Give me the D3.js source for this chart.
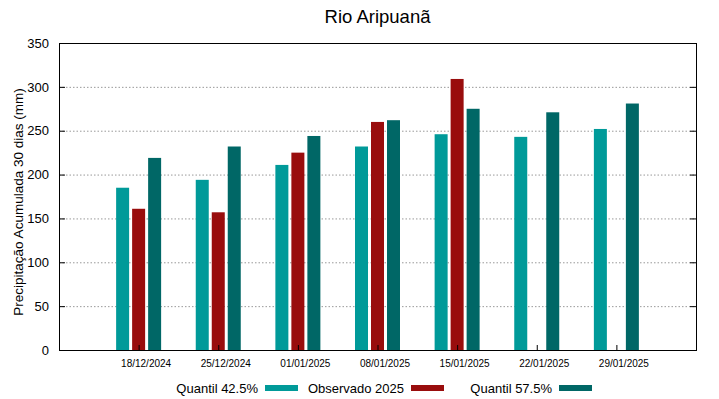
<!DOCTYPE html>
<html>
<head>
<meta charset="utf-8">
<script src="https://cdn.jsdelivr.net/npm/d3@7"></script>
<style>
body { margin: 0; background: #fff; }
text { font-family: "Liberation Sans", Arial, sans-serif; }
</style>
</head>
<body>
<svg id="chart" width="719" height="399"></svg>
<script>
var dates = ["18/12/2024", "25/12/2024", "01/01/2025", "08/01/2025", "15/01/2025", "22/01/2025", "29/01/2025"];
var q425 = [185, 194, 211, 232, 246, 243, 252];
var obs2025 = [161, 157, 225, 260, 309, null, null];
var q575 = [219, 232, 244, 262, 275, 271, 281];
var yTicks = [0, 50, 100, 150, 200, 250, 300, 350];

var series = [
	{ name: "Quantil 42.5%", values: q425, color: "#009a99", off: -1 },
	{ name: "Observado 2025", values: obs2025, color: "#990d0d", off: 0 },
	{ name: "Quantil 57.5%", values: q575, color: "#006766", off: 1 },
];

var margin = { top: 43, right: 23, bottom: 49, left: 59 },
	width = 719 - margin.left - margin.right,
	height = 399 - margin.top - margin.bottom;

var svg = d3.select("#chart");
var g = svg.append("g").attr("transform", "translate(" + margin.left + "," + margin.top + ")");

var x = d3.scaleLinear().domain([-1, 7]).range([0, width]);
var y = d3.scaleLinear().domain([0, 350]).range([height, 0]);
var barW = 13, slot = 16;

// grid
g.append("g")
	.selectAll("line")
	.data(yTicks.filter((d) => d > 0 && d < 350))
	.enter()
	.append("line")
	.attr("x1", 0)
	.attr("x2", width)
	.attr("y1", (d) => y(d) + 0.5)
	.attr("y2", (d) => y(d) + 0.5)
	.attr("stroke", "#999")
	.attr("stroke-width", 1)
	.attr("stroke-dasharray", "1.5,2");

// bars
series.forEach(function (s) {
	g.append("g")
		.selectAll("rect")
		.data(s.values.map((v, i) => ({ v: v, i: i })).filter((d) => d.v != null))
		.enter()
		.append("rect")
		.attr("x", (d) => x(d.i) + s.off * slot - barW / 2)
		.attr("y", (d) => y(d.v))
		.attr("width", barW)
		.attr("height", (d) => height - y(d.v))
		.attr("fill", s.color);
});

// axes
var yAxis = d3.axisLeft(y).tickValues(yTicks).tickSize(-6).tickPadding(10);
var ya = g.append("g").call(yAxis);
ya.selectAll("text").attr("font-size", 13).attr("fill", "#000").attr("font-family", "Liberation Sans, Arial, sans-serif");
ya.select(".domain").remove();
ya.selectAll("line").attr("stroke", "#000");

var yr = g.append("g").attr("transform", "translate(" + width + ",0)").call(d3.axisRight(y).tickValues(yTicks).tickSize(-6).tickFormat(""));
yr.select(".domain").remove();
yr.selectAll("line").attr("stroke", "#000");

var xAxis = d3.axisBottom(x).tickValues(d3.range(dates.length)).tickSize(-5).tickFormat((i) => dates[i]).tickPadding(10);
var xa = g.append("g").attr("transform", "translate(0," + height + ")").call(xAxis);
xa.select(".domain").remove();
xa.selectAll("line").attr("stroke", "#000");
xa.selectAll("text").attr("font-size", 10).attr("fill", "#000").attr("dx", 7).attr("font-family", "Liberation Sans, Arial, sans-serif");

// border
g.append("rect")
	.attr("x", 0.5)
	.attr("y", 0.5)
	.attr("width", width)
	.attr("height", height)
	.attr("fill", "none")
	.attr("stroke", "#000")
	.attr("stroke-width", 1);

// title
svg.append("text")
	.attr("x", margin.left + width / 2)
	.attr("y", 23)
	.attr("text-anchor", "middle")
	.attr("font-size", 18.5)
	.text("Rio Aripuanã");

// Y axis label
svg.append("text")
	.attr("text-anchor", "middle")
	.attr("transform", "translate(22.5,202) rotate(-90)")
	.attr("font-size", 13.5)
	.text("Precipitação Acumulada 30 dias (mm)");

// legend
var legendX = [258, 404, 552];
var leg = svg.append("g").attr("transform", "translate(0,388)");
series.forEach(function (s, k) {
	leg.append("text")
		.attr("x", legendX[k])
		.attr("y", 5)
		.attr("text-anchor", "end")
		.attr("font-size", 13)
		.text(s.name);
	leg.append("rect")
		.attr("x", legendX[k] + 7)
		.attr("y", -3)
		.attr("width", 33)
		.attr("height", 6)
		.attr("fill", s.color);
});
</script>
</body>
</html>
